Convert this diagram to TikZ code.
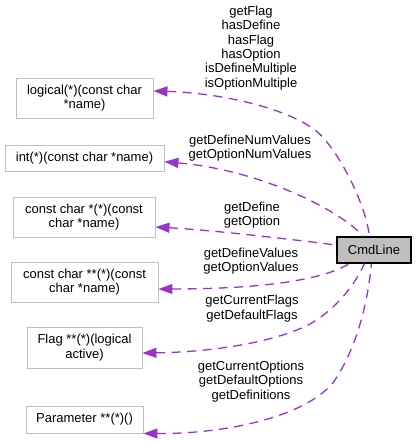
\documentclass[tikz,border=0pt]{standalone}
\usepackage{fontspec}
\setmainfont{Liberation Sans}
\usetikzlibrary{arrows.meta,calc}
\definecolor{edgec}{HTML}{9A32CD}
\definecolor{boxc}{HTML}{BFBFBF}
\begin{document}
\begin{tikzpicture}[x=1pt,y=-1pt,
  every node/.style={font=\fontsize{13}{14.4}\selectfont, inner sep=0pt},
  fbox/.style={draw=boxc, line width=0.9pt, fill=white, align=center},
  lbl/.style={align=center},
  rel/.style={draw=edgec, line width=1.3pt, dash pattern=on 9pt off 6.5pt, {Triangle[length=14pt,width=10pt]}-}]
\useasboundingbox (0,0) rectangle (416,441);

\node[fbox, minimum width=137pt, minimum height=40pt] (b1) at (84.5,98) {logical(*)(const char\\{}*name)};
\node[fbox, minimum width=159pt, minimum height=26pt] (b2) at (84.5,158) {int(*)(const char *name)};
\node[fbox, minimum width=142pt, minimum height=40pt] (b3) at (84,217) {const char *(*)(const\\char *name)};
\node[fbox, minimum width=147pt, minimum height=40pt] (b4) at (84.5,282) {const char **(*)(const\\char *name)};
\node[fbox, minimum width=115pt, minimum height=41pt] (b5) at (84.5,347.5) {Flag **(*)(logical\\active)};
\node[fbox, minimum width=117pt, minimum height=27pt] (b6) at (84.5,419.5) {Parameter **(*)()};

\node[draw=black, fill=boxc, line width=1.1pt, minimum width=74pt, minimum height=26pt] (cmd) at (374,250) {CmdLine};

\draw[rel] ([yshift=7pt]b1.east) .. controls (220,93) and (285,107.5) .. (315,130) .. controls (335,145) and (365,200) .. ([xshift=33pt]cmd.north west);
\draw[rel] ([yshift=-3.7pt]b2.east) .. controls (260,170) and (340,210) .. ([xshift=27pt]cmd.north west);
\draw[rel] ([yshift=-10pt]b3.east) .. controls (210,230) and (280,238) .. ([yshift=5pt]cmd.west);
\draw[rel] ([yshift=-7pt]b4.east) .. controls (250,289) and (320,282) .. ([xshift=13pt]cmd.south west);
\draw[rel] ([yshift=-5.5pt]b5.east) .. controls (220,352) and (280,340) .. (310,324) .. controls (335,310) and (355,285) .. ([xshift=28pt]cmd.south west);
\draw[rel] (b6.south east) .. controls (230,434) and (310,415) .. (335,380) .. controls (358,345) and (368,300) .. ([xshift=35pt]cmd.south west);

\node[lbl] (l1) at (251,48) {getFlag\\hasDefine\\hasFlag\\hasOption\\isDefineMultiple\\isOptionMultiple};
\node[lbl] (l2) at (250,148) {getDefineNumValues\\getOptionNumValues};
\node[lbl] (l3) at (252,215) {getDefine\\getOption};
\node[lbl] (l4) at (251,261) {getDefineValues\\getOptionValues};
\node[lbl] (l5) at (252,308.5) {getCurrentFlags\\getDefaultFlags};
\node[lbl] (l6) at (251,381.5) {getCurrentOptions\\getDefaultOptions\\getDefinitions};
\end{tikzpicture}
\end{document}
